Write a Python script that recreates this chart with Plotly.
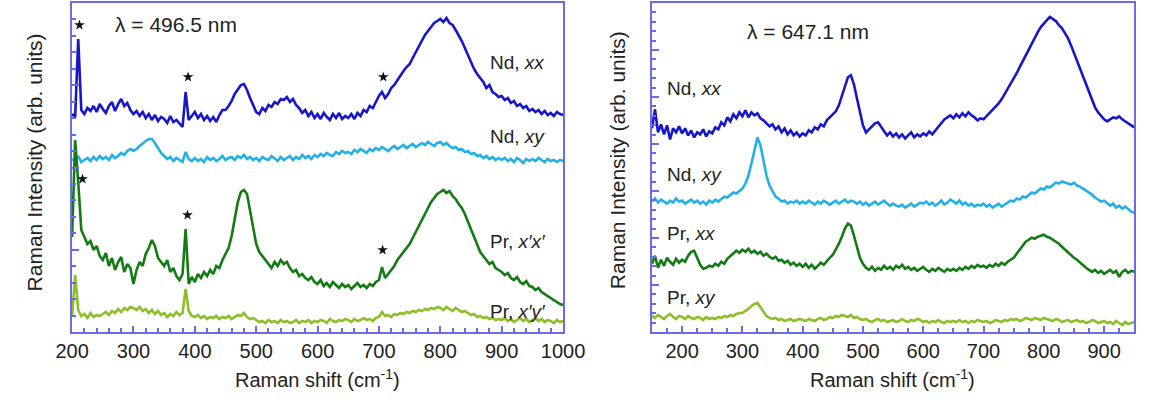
import plotly.graph_objects as go

# Raman spectra, two excitation wavelengths (intensities in arbitrary units, offset for clarity)

# ---- lambda = 496.5 nm panel: shifts 200..1000 cm^-1, step 5
shift_a = list(range(200, 1001, 5))

nd_xx_a = [
    218, 215, 293, 222, 218, 224, 221, 226, 220, 228,
    223, 219, 226, 230, 221, 228, 233, 226, 229, 222,
    218, 221, 216, 220, 214, 218, 212, 217, 211, 215,
    213, 209, 216, 210, 212, 208, 205, 240, 212, 216,
    220, 214, 218, 212, 216, 211, 215, 210, 217, 222,
    222, 226, 231, 238, 243, 247, 248, 242, 234, 226,
    220, 218, 224, 221, 227, 225, 230, 228, 233, 232,
    235, 230, 233, 227, 224, 219, 222, 216, 220, 214,
    218, 213, 219, 215, 212, 218, 214, 219, 213, 216,
    214, 218, 213, 219, 216, 222, 220, 226, 224, 230,
    236, 240, 234, 238, 244, 247, 252, 256, 261, 265,
    268, 274, 280, 286, 292, 297, 301, 305, 309, 311,
    313, 310, 314, 309, 307, 302, 297, 291, 284, 277,
    270, 263, 258, 254, 250, 244, 247, 240, 238, 235,
    236, 232, 234, 229, 231, 226, 228, 224, 226, 221,
    223, 220, 222, 218, 221, 217, 219, 216, 220, 218,
    217,
]

nd_xy_a = [
    173, 171, 176, 170, 172, 174, 171, 175, 172, 176,
    173, 175, 172, 177, 174, 176, 179, 177, 181, 183,
    181, 183, 186, 189, 191, 193, 193, 189, 184, 179,
    176, 173, 175, 171, 174, 172, 170, 180, 173, 171,
    174, 171, 173, 170, 175, 172, 174, 171, 173, 176,
    172, 174, 175, 172, 176, 174, 177, 173, 175, 172,
    174, 171, 175, 173, 172, 176, 173, 171, 175, 172,
    174, 176, 172, 175, 173, 177, 174, 176, 173, 177,
    175, 178, 176, 179, 177, 176, 180, 178, 181, 179,
    180, 178, 182, 180, 183, 181, 179, 183, 181, 184,
    182, 185, 183, 181, 184, 186, 183, 185, 187, 184,
    186, 188, 185, 187, 189, 187, 190, 188, 186, 189,
    190, 187, 189, 186, 184, 185, 182, 183, 180, 181,
    178, 179, 176, 177, 174, 176, 173, 175, 172, 174,
    172, 174, 171, 173, 170, 174, 172, 169, 173, 171,
    173, 171, 174, 172, 170, 173, 171, 172, 170, 172,
    171,
]

pr_xx_a = [
    95, 192, 150, 102, 95, 88, 91, 82, 86, 76,
    72, 79, 66, 74, 62, 70, 75, 60, 68, 64,
    48, 62, 70, 66, 78, 84, 92, 86, 74, 70,
    66, 72, 60, 64, 56, 52, 58, 103, 48, 55,
    50, 58, 54, 60, 56, 62, 58, 66, 64, 72,
    78, 84, 96, 112, 130, 140, 142, 138, 122, 104,
    88, 80, 76, 72, 68, 64, 70, 66, 72, 68,
    70, 64, 60, 62, 56, 58, 54, 52, 55, 50,
    48, 52, 46, 49, 45, 50, 47, 44, 48, 45,
    47, 43, 46, 49, 45, 47, 44, 48, 46, 50,
    52, 65, 54, 58, 62, 66, 72, 76, 80, 84,
    88, 94, 100, 106, 112, 118, 124, 130, 134, 138,
    140, 142, 139, 141, 136, 133, 128, 124, 118, 110,
    102, 94, 86, 80, 76, 72, 68, 70, 64, 62,
    60, 57, 59, 54, 52, 55, 50, 48, 51, 46,
    45, 42, 44, 40, 38, 36, 34, 32, 30, 28,
    27,
]

pr_xy_a = [
    15, 57, 22, 16, 18, 14, 19, 15, 17, 16,
    18, 20, 17, 21, 19, 23, 20, 24, 22, 25,
    24, 22, 25, 21, 23, 19, 22, 18, 21, 17,
    19, 15, 18, 16, 20, 17, 19, 43, 21, 16,
    15, 17, 14, 16, 13, 15, 14, 16, 13, 15,
    14, 16, 13, 15, 17, 16, 19, 15, 13, 14,
    12, 10, 11, 9, 12, 10, 11, 9, 12, 10,
    11, 9, 10, 12, 9, 11, 10, 12, 9, 11,
    10, 12, 11, 9, 13, 11, 10, 12, 11, 13,
    12, 10, 13, 11, 12, 14, 12, 13, 11, 14,
    15, 20, 16, 17, 15, 18, 17, 19, 18, 20,
    19, 21, 20, 22, 21, 23, 22, 24, 23, 25,
    24, 22, 25, 23, 21, 24, 22, 20, 21, 19,
    17, 18, 15, 16, 14, 15, 13, 14, 12, 13,
    12, 14, 11, 13, 10, 12, 14, 11, 13, 10,
    12, 14, 11, 13, 10, 12, 11, 9, 12, 10,
    11,
]

# laser plasma lines marked with asterisks
star_a_x = [212, 389, 707, 217, 388, 706]
star_a_y = [307, 255, 255, 153, 117, 82]

# ---- lambda = 647.1 nm panel: shifts 150..950 cm^-1, step 5
shift_b = list(range(150, 951, 5))

nd_xx_b = [
    203, 222, 199, 207, 197, 206, 192, 203, 199, 205,
    198, 203, 196, 201, 194, 199, 197, 202, 195, 200,
    198, 204, 202, 209, 206, 214, 210, 217, 213, 219,
    215, 221, 214, 219, 216, 218, 213, 211, 208, 205,
    207, 202, 205, 199, 203, 197, 201, 196, 199, 195,
    198, 196, 201, 199, 204, 202, 207, 205, 211, 214,
    216, 220, 226, 236, 246, 254, 256, 247, 233, 218,
    206, 199, 202, 206, 208, 209, 205, 200, 196, 199,
    195, 198, 194, 197, 193, 196, 199, 194, 197, 195,
    198, 196, 200, 197, 201, 205, 209, 212, 214, 216,
    213, 217, 214, 218, 215, 219, 216, 214, 211, 213,
    212, 215, 218, 221, 224, 228, 232, 237, 242, 247,
    252, 258, 264, 270, 276, 282, 288, 294, 299, 304,
    308, 311, 314, 312, 310, 306, 303, 298, 293, 286,
    278, 270, 262, 254, 246, 238, 230, 224, 219, 215,
    212, 210, 212, 214, 213, 215, 212, 210, 208, 206,
    204,
]

nd_xy_b = [
    130, 133, 129, 132, 130, 128, 131, 129, 133, 130,
    131, 128, 130, 132, 129, 131, 128, 130, 127, 131,
    129, 132, 130, 133, 135, 134, 137, 139, 138, 141,
    143, 148, 156, 168, 182, 194, 186, 170, 156, 146,
    140, 135, 133, 130, 131, 128, 130, 129, 131, 128,
    130, 128, 131, 129, 127, 130, 128, 131, 129, 127,
    129, 131, 128, 130, 132, 129, 131, 130, 128, 130,
    127, 129, 126, 128, 130, 127, 129, 131, 128, 126,
    128, 126, 125, 127, 124, 126, 128, 125, 127, 129,
    128, 130, 127, 129, 126, 128, 131, 127, 129, 132,
    130, 128, 131, 127, 129, 126, 128, 125, 127, 126,
    128, 125, 127, 124, 126, 128, 125, 127, 129, 131,
    130, 133, 132, 135, 134, 137, 139, 138, 141, 143,
    142, 145, 144, 147, 149, 148, 150, 149, 148, 147,
    149, 146, 145, 143, 141, 139, 137, 134, 132, 130,
    131, 128, 126, 128, 124, 126, 123, 125, 122, 120,
    119,
]

pr_xx_b = [
    68, 76, 64, 72, 66, 74, 70, 67, 73, 69,
    72, 70, 76, 80, 81, 74, 67, 63, 64, 66,
    65, 68, 66, 70, 68, 73, 76, 78, 81, 79,
    82, 80, 83, 79, 81, 78, 80, 76, 78, 75,
    73, 75, 71, 72, 69, 71, 67, 69, 66, 68,
    65, 68, 64, 67, 63, 66, 69, 67, 71, 74,
    77, 82, 88, 95, 103, 108, 106, 96, 84, 74,
    68, 64, 62, 65, 61, 64, 62, 66, 63, 65,
    62, 66, 64, 67, 63, 65, 62, 64, 61, 63,
    65, 62, 60, 63, 61, 64, 62, 60, 63, 61,
    63, 61, 64, 62, 65, 63, 66, 64, 67, 65,
    66, 64, 67, 65, 68, 66, 69, 67, 70, 72,
    74, 78, 82, 86, 90, 92, 94, 93, 95, 96,
    97, 95, 94, 92, 90, 88, 85, 82, 79, 76,
    74, 72, 69, 67, 64, 62, 60, 62, 59, 61,
    58, 60, 62, 59, 61, 55, 60, 62, 59, 61,
    60,
]

pr_xy_b = [
    16, 14, 17, 15, 13, 16, 18, 15, 13, 16,
    15, 13, 16, 14, 13, 15, 14, 12, 15, 13,
    14, 13, 15, 14, 16, 15, 17, 16, 18, 19,
    19, 21, 23, 26, 28, 29, 25, 20, 16, 14,
    13, 14, 12, 13, 11, 12, 13, 11, 12, 13,
    12, 11, 13, 12, 11, 13, 14, 12, 13, 15,
    14, 16, 15, 17, 16, 15, 17, 14, 15, 13,
    12, 13, 11, 10, 12, 13, 11, 12, 10, 11,
    12, 10, 11, 13, 11, 10, 12, 11, 13, 12,
    10, 11, 9, 11, 10, 12, 10, 9, 11, 10,
    11, 10, 12, 10, 11, 9, 11, 10, 12, 11,
    10, 11, 9, 10, 12, 11, 10, 12, 11, 13,
    12, 13, 11, 12, 14, 13, 12, 14, 13, 12,
    14, 13, 12, 11, 13, 12, 10, 11, 12, 10,
    11, 12, 10, 11, 9, 10, 12, 11, 9, 10,
    11, 9, 10, 8, 11, 9, 7, 10, 8, 9,
    10,
]

C_ND_XX = "#1717c9"
C_ND_XY = "#22b0e6"
C_PR_XX = "#147a14"
C_PR_XY = "#8cbf2a"
FRAME = "#6b6be6"
TXT = "#222222"
FONT = "Liberation Sans, Arial, sans-serif"

fig = go.Figure()

def spectrum(x, y, color, xa, ya):
    fig.add_trace(go.Scatter(x=x, y=y, mode="lines", xaxis=xa, yaxis=ya,
                             line=dict(color=color, width=2.6), hoverinfo="skip",
                             showlegend=False))

spectrum(shift_a, nd_xx_a, C_ND_XX, "x", "y")
spectrum(shift_a, nd_xy_a, C_ND_XY, "x", "y")
spectrum(shift_a, pr_xx_a, C_PR_XX, "x", "y")
spectrum(shift_a, pr_xy_a, C_PR_XY, "x", "y")
fig.add_trace(go.Scatter(x=star_a_x, y=star_a_y, mode="markers", xaxis="x", yaxis="y",
                         marker=dict(symbol="star", size=8, color="#111111"),
                         hoverinfo="skip", showlegend=False))

spectrum(shift_b, nd_xx_b, C_ND_XX, "x2", "y2")
spectrum(shift_b, nd_xy_b, C_ND_XY, "x2", "y2")
spectrum(shift_b, pr_xx_b, C_PR_XX, "x2", "y2")
spectrum(shift_b, pr_xy_b, C_PR_XY, "x2", "y2")

W, H = 1163, 403
dom_y = [1 - 332 / H, 1 - 3 / H]

xcommon = dict(showline=True, mirror=True, linecolor=FRAME, linewidth=2,
               ticks="inside", ticklen=6, tickwidth=1.5, tickcolor=FRAME,
               showgrid=False, zeroline=False, dtick=100,
               tickfont=dict(family=FONT, size=20, color=TXT))
ycommon = dict(showline=True, mirror=True, linecolor=FRAME, linewidth=2,
               ticks="inside", ticklen=7, tickwidth=1.5, tickcolor=FRAME,
               showgrid=False, zeroline=False, showticklabels=False, tick0=0)

fig.update_layout(
    width=W, height=H,
    margin=dict(l=0, r=0, t=0, b=0),
    paper_bgcolor="white", plot_bgcolor="white",
    xaxis=dict(xcommon, domain=[57 / W, 565 / W], range=[200, 1000], anchor="y",
               minor=dict(dtick=20, ticks="inside", ticklen=4, tickcolor=FRAME, showgrid=False)),
    yaxis=dict(ycommon, domain=dom_y, range=[0, 329], anchor="x", dtick=82.25,
               minor=dict(dtick=16.45, ticks="inside", ticklen=4, tickcolor=FRAME, showgrid=False)),
    xaxis2=dict(xcommon, domain=[657 / W, 1156 / W], range=[150, 950], anchor="y2",
                minor=dict(dtick=25, ticks="inside", ticklen=4, tickcolor=FRAME, showgrid=False)),
    yaxis2=dict(ycommon, domain=dom_y, range=[0, 328], anchor="x2", dtick=328 / 7,
                minor=dict(dtick=328 / 35, ticks="inside", ticklen=4, tickcolor=FRAME, showgrid=False)),
    font=dict(family=FONT, color=TXT),
)

def note(x, y, text, size=19, xanchor="left", angle=0):
    fig.add_annotation(x=x / W, y=1 - y / H, xref="paper", yref="paper", text=text,
                       showarrow=False, xanchor=xanchor, yanchor="middle", textangle=angle,
                       font=dict(family=FONT, size=size, color=TXT))

# panel labels
note(99, 24, "λ = 496.5 nm", 21)
note(487, 62, "Nd, <i>xx</i>")
note(487, 136, "Nd, <i>xy</i>")
note(487, 241, "Pr, <i>x′x′</i>")
note(487, 311, "Pr, <i>x′y′</i>")

note(753, 32, "λ = 647.1 nm", 21)
note(670, 88, "Nd, <i>xx</i>")
note(670, 174, "Nd, <i>xy</i>")
note(670, 233, "Pr, <i>xx</i>")
note(670, 297, "Pr, <i>xy</i>")

# axis titles
note(311, 378, "Raman shift (cm<sup>-1</sup>)", 20, "center")
note(906, 378, "Raman shift (cm<sup>-1</sup>)", 20, "center")
note(18, 162, "Raman Intensity (arb. units)", 21, "center", -90)
note(621, 160, "Raman Intensity (arb. units)", 21, "center", -90)

fig.write_html("out.html")
